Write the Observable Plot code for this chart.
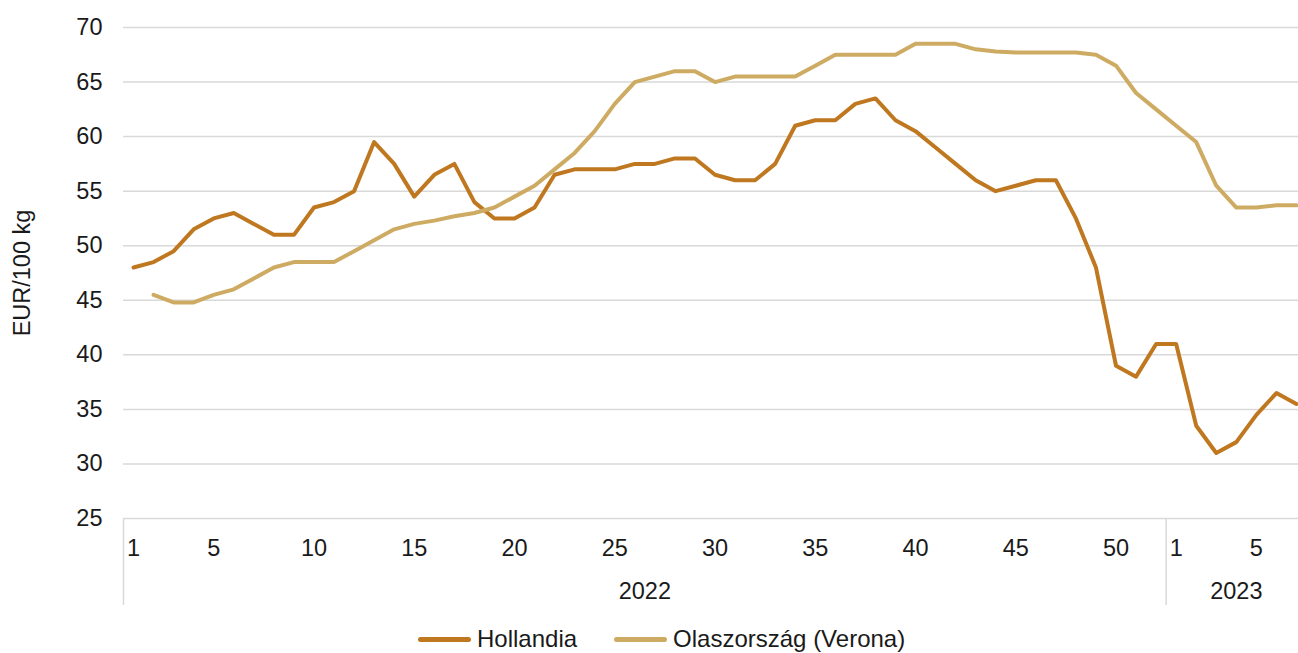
<!DOCTYPE html>
<html>
<head>
<meta charset="utf-8">
<script src="https://cdn.jsdelivr.net/npm/d3@7"></script>
<script src="https://cdn.jsdelivr.net/npm/@observablehq/plot@0.6"></script>
<style>
  html, body { margin: 0; padding: 0; background: #fff; }
  #chart { width: 1298px; position: relative; font-family: "Liberation Sans", Arial, sans-serif; color: #1a1a1a; }
  .legend { display: flex; align-items: center; height: 38px; padding-left: 418px; font-size: 24px; }
  .item { display: flex; align-items: center; margin-right: 37px; }
  .sw { width: 53px; height: 5px; border-radius: 3px; margin-right: 6px; }
</style>
</head>
<body>
<div id="chart"></div>
<script>
// categories
const years = ["2022", "2023"];
const weeksPerYear = [52, 7];
const shownTicks2022 = [1, 5, 10, 15, 20, 25, 30, 35, 40, 45, 50];
const shownTicks2023 = [1, 5];
const yTicks = [25, 30, 35, 40, 45, 50, 55, 60, 65, 70];

// series (EUR/100 kg)
const seriesNames = ["Hollandia", "Olaszország (Verona)"];
const colors = ["#BF7820", "#CEAB63"];
const hollandia2022 = [48, 48.5, 49.5, 51.5, 52.5, 53, 52, 51, 51, 53.5, 54, 55, 59.5, 57.5, 54.5, 56.5, 57.5, 54, 52.5, 52.5,
  53.5, 56.5, 57, 57, 57, 57.5, 57.5, 58, 58, 56.5, 56, 56, 57.5, 61, 61.5, 61.5, 63, 63.5, 61.5, 60.5,
  59, 57.5, 56, 55, 55.5, 56, 56, 52.5, 48, 39, 38, 41];
const hollandia2023 = [41, 33.5, 31, 32, 34.5, 36.5, 35.5];
const olasz2022 = [null, 45.5, 44.8, 44.8, 45.5, 46, 47, 48, 48.5, 48.5, 48.5, 49.5, 50.5, 51.5, 52, 52.3, 52.7, 53, 53.5, 54.5,
  55.5, 57, 58.5, 60.5, 63, 65, 65.5, 66, 66, 65, 65.5, 65.5, 65.5, 65.5, 66.5, 67.5, 67.5, 67.5, 67.5, 68.5,
  68.5, 68.5, 68, 67.8, 67.7, 67.7, 67.7, 67.7, 67.5, 66.5, 64, 62.5];
const olasz2023 = [61, 59.5, 55.5, 53.5, 53.5, 53.7, 53.7];

// build category table
const cats = [];
years.forEach((yr, yi) => {
  for (let w = 1; w <= weeksPerYear[yi]; w++) cats.push({year: yr, week: w, i: cats.length});
});
const hol = hollandia2022.concat(hollandia2023);
const ola = olasz2022.concat(olasz2023);
const rows = [];
cats.forEach((c, k) => {
  rows.push({i: c.i, v: hol[k], s: seriesNames[0]});
  rows.push({i: c.i, v: ola[k], s: seriesNames[1]});
});
const tickCats = cats.filter(c => (c.year === "2022" ? shownTicks2022 : shownTicks2023).includes(c.week));
// year group boundaries and centers
let start = 0;
const groups = years.map((yr, yi) => {
  const g = {year: yr, a: start - 0.5, b: start + weeksPerYear[yi] - 0.5};
  start += weeksPerYear[yi];
  g.mid = (g.a + g.b) / 2;
  return g;
});
const boundaries = groups.map(g => g.a);

const font = '"Liberation Sans", Arial, sans-serif';
const fs = 23.5;
const plot = Plot.plot({
  width: 1298,
  height: 620,
  marginLeft: 123,
  marginRight: -8,
  marginTop: 27,
  marginBottom: 102,
  style: {fontFamily: font, fontSize: fs + "px", color: "#1a1a1a", background: "#fff"},
  x: {domain: [-0.5, cats.length - 0.5], axis: null},
  y: {domain: [25, 70], axis: null},
  color: {domain: seriesNames, range: colors},
  marks: [
    Plot.gridY(yTicks, {stroke: "#d9d9d9", strokeOpacity: 1, strokeWidth: 1.5}),
    Plot.axisY(yTicks, {tickSize: 0, tickPadding: 21, label: null, fontSize: fs}),
    Plot.axisX(boundaries, {tickSize: 87, tickFormat: () => "", stroke: "#d9d9d9", strokeWidth: 1.5, strokeOpacity: 1, label: null}),
    Plot.text(tickCats, {x: "i", frameAnchor: "bottom", dy: 30, text: d => String(d.week), fontSize: fs, lineAnchor: "middle"}),
    Plot.text(groups, {x: "mid", frameAnchor: "bottom", dy: 73, text: "year", fontSize: fs, lineAnchor: "middle"}),
    Plot.text(["EUR/100 kg"], {frameAnchor: "left", dx: -101, rotate: -90, fontSize: fs, textAnchor: "middle", lineAnchor: "middle"}),
    Plot.lineY(rows, {x: "i", y: "v", z: "s", stroke: "s", strokeWidth: 4, strokeLinejoin: "round", strokeLinecap: "round"})
  ]
});
const chart = document.getElementById("chart");
chart.appendChild(plot);
const leg = document.createElement("div");
leg.className = "legend";
seriesNames.forEach((n, k) => {
  const it = document.createElement("div");
  it.className = "item";
  const sw = document.createElement("span");
  sw.className = "sw";
  sw.style.background = colors[k];
  const t = document.createElement("span");
  t.textContent = n;
  it.appendChild(sw); it.appendChild(t);
  leg.appendChild(it);
});
chart.appendChild(leg);
</script>
</body>
</html>
